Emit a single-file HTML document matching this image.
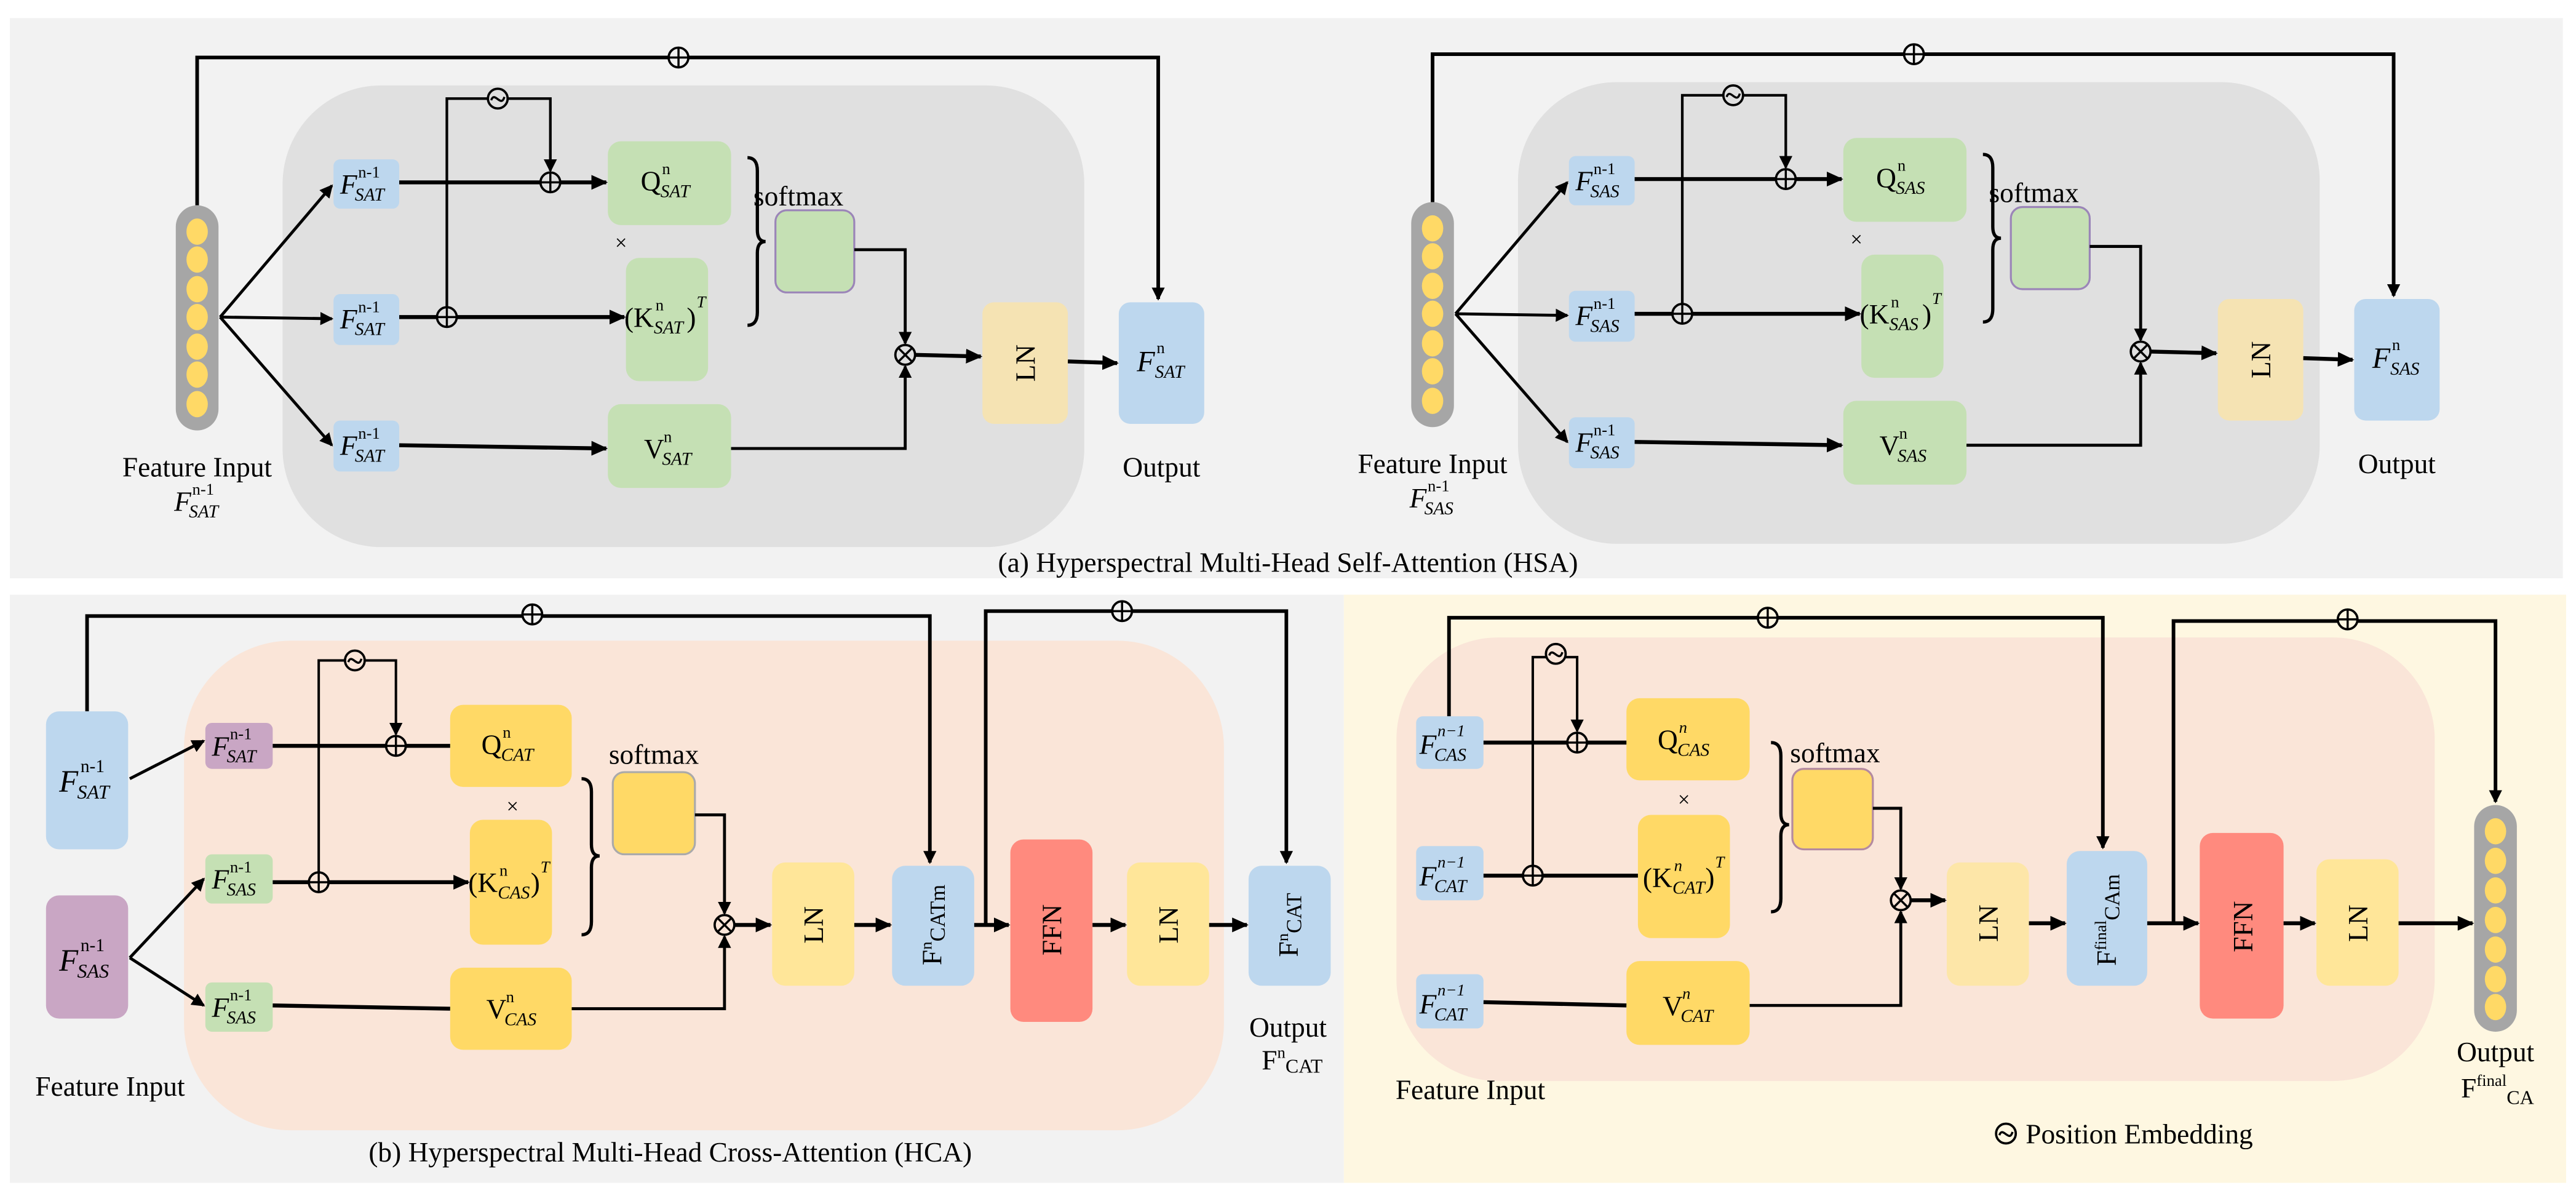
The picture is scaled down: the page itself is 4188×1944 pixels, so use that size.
<!DOCTYPE html>
<html><head><meta charset="utf-8"><style>
html,body{margin:0;padding:0;background:#fff}
svg{display:block}
text{font-family:"Liberation Serif",serif;fill:#000}
.it{font-style:italic}
</style></head><body>
<svg width="4188" height="1944" viewBox="0 0 1568 728" preserveAspectRatio="none" xmlns="http://www.w3.org/2000/svg">
<defs>
<marker id="ar" markerUnits="userSpaceOnUse" markerWidth="10" markerHeight="9" refX="9" refY="4.5" orient="auto"><path d="M0,0 L10,4.5 L0,9 z" fill="#000"/></marker>
<marker id="as" markerUnits="userSpaceOnUse" markerWidth="8" markerHeight="8" refX="7" refY="4" orient="auto"><path d="M0,0 L8,4 L0,8 z" fill="#000"/></marker>
</defs>
<rect x="6" y="11" width="1554" height="341" fill="#f2f2f2"/>
<rect x="6" y="362" width="812" height="358" fill="#f2f2f2"/>
<rect x="818" y="362" width="744" height="358" fill="#fef7e1"/>

<g id="topA">
<rect x="172" y="52" width="488" height="281" rx="60" fill="#e0e0e0"/>
<polyline points="120,125 120,35 705,35 705,182" fill="none" stroke="#000" stroke-width="2.2" marker-end="url(#as)"/>
<rect x="107" y="125" width="26" height="137" rx="13" fill="#a6a6a6"/>
<g fill="#ffd966"><ellipse cx="120" cy="141" rx="6.5" ry="8"/><ellipse cx="120" cy="158" rx="6.5" ry="8"/><ellipse cx="120" cy="176" rx="6.5" ry="8"/><ellipse cx="120" cy="193" rx="6.5" ry="8"/><ellipse cx="120" cy="211" rx="6.5" ry="8"/><ellipse cx="120" cy="228" rx="6.5" ry="8"/><ellipse cx="120" cy="246" rx="6.5" ry="8"/></g>
<g fill="#bdd7ee"><rect x="203" y="97" width="40" height="30" rx="4"/><rect x="203" y="179" width="40" height="31" rx="4"/><rect x="203" y="256" width="40" height="31" rx="4"/><rect x="681" y="184" width="52" height="74" rx="7"/></g>
<g stroke="#000" stroke-width="1.8" fill="none">
<line x1="134" y1="193" x2="202" y2="113" marker-end="url(#as)"/>
<line x1="134" y1="193" x2="202" y2="194" marker-end="url(#as)"/>
<line x1="134" y1="193" x2="202" y2="271" marker-end="url(#as)"/>
</g>
<g fill="#c5e0b4"><rect x="370" y="86" width="75" height="51" rx="8"/><rect x="381" y="157" width="50" height="75" rx="8"/><rect x="370" y="246" width="75" height="51" rx="8"/></g>
<rect x="472" y="128" width="48" height="50" rx="7" fill="#c5e0b4" stroke="#9b85b8" stroke-width="1.2"/>
<rect x="598" y="184" width="52" height="74" rx="7" fill="#f5e3b3"/>
<g stroke="#000" stroke-width="2.4" fill="none">
<line x1="243" y1="111" x2="369" y2="111" marker-end="url(#ar)"/>
<line x1="243" y1="193" x2="380" y2="193" marker-end="url(#ar)"/>
<line x1="243" y1="271" x2="369" y2="273" marker-end="url(#ar)"/>
<line x1="557" y1="216" x2="597" y2="217" marker-end="url(#ar)"/>
<line x1="650" y1="220" x2="680" y2="221" marker-end="url(#ar)"/>
<polyline points="520,152 551,152 551,209" stroke-width="1.8" marker-end="url(#as)"/>
<polyline points="445,273 551,273 551,223" stroke-width="1.8" marker-end="url(#as)"/>
<polyline points="272,193 272,60 335,60 335,104" stroke-width="1.6" marker-end="url(#as)"/>
<path d="M455,96 Q461,96 461,104 L461,140 Q461,147 466,147 Q461,147 461,154 L461,190 Q461,198 455,198" stroke-width="2"/>
</g>
<g fill="#e0e0e0" stroke="#000" stroke-width="1.4">
<circle cx="413" cy="35" r="6" fill="#f2f2f2"/><circle cx="335" cy="111" r="6"/><circle cx="272" cy="193" r="6"/><circle cx="551" cy="216" r="6"/><circle cx="303" cy="60" r="6"/>
</g>
<g stroke="#000" stroke-width="1.3" fill="none">
<path d="M407,35 H419 M413,29 V41"/><path d="M329,111 H341 M335,105 V117"/><path d="M266,193 H278 M272,187 V199"/>
<path d="M547,212 L555,220 M555,212 L547,220"/><path d="M299,61 C301,55 305,66 307,59"/>
</g>
</g>
<g font-size="17">
<text x="207" y="118" class="it">F</text><text x="218" y="108" font-size="10">n-1</text><text x="216" y="122" font-size="11" class="it">SAT</text>
<text x="207" y="200" class="it">F</text><text x="218" y="190" font-size="10">n-1</text><text x="216" y="204" font-size="11" class="it">SAT</text>
<text x="207" y="277" class="it">F</text><text x="218" y="267" font-size="10">n-1</text><text x="216" y="281" font-size="11" class="it">SAT</text>
<text x="390" y="116">Q</text><text x="403" y="106" font-size="10">n</text><text x="402" y="120" font-size="11" class="it">SAT</text>
<text x="380" y="199">(K</text><text x="399" y="189" font-size="10">n</text><text x="398" y="203" font-size="11" class="it">SAT</text><text x="418" y="199">)</text><text x="424" y="187" font-size="10" class="it">T</text>
<text x="392" y="279">V</text><text x="404" y="269" font-size="10">n</text><text x="403" y="283" font-size="11" class="it">SAT</text>
<text x="378" y="152" font-size="13" text-anchor="middle">×</text>
<text x="486" y="125" text-anchor="middle">softmax</text>
<text transform="translate(624,221) rotate(-90)" text-anchor="middle" dy="6">LN</text>
<text x="692" y="226" class="it" font-size="18">F</text><text x="704" y="215" font-size="10">n</text><text x="703" y="230" font-size="11" class="it">SAT</text>
<text x="120" y="290" text-anchor="middle">Feature Input</text>
<text x="106" y="311" class="it">F</text><text x="117" y="301" font-size="10">n-1</text><text x="115" y="315" font-size="11" class="it">SAT</text>
<text x="707" y="290" text-anchor="middle">Output</text>
</g>

<use href="#topA" transform="translate(752,-2)"/>
<g font-size="17" transform="translate(752,-2)">
<text x="207" y="118" class="it">F</text><text x="218" y="108" font-size="10">n-1</text><text x="216" y="122" font-size="11" class="it">SAS</text>
<text x="207" y="200" class="it">F</text><text x="218" y="190" font-size="10">n-1</text><text x="216" y="204" font-size="11" class="it">SAS</text>
<text x="207" y="277" class="it">F</text><text x="218" y="267" font-size="10">n-1</text><text x="216" y="281" font-size="11" class="it">SAS</text>
<text x="390" y="116">Q</text><text x="403" y="106" font-size="10">n</text><text x="402" y="120" font-size="11" class="it">SAS</text>
<text x="380" y="199">(K</text><text x="399" y="189" font-size="10">n</text><text x="398" y="203" font-size="11" class="it">SAS</text><text x="418" y="199">)</text><text x="424" y="187" font-size="10" class="it">T</text>
<text x="392" y="279">V</text><text x="404" y="269" font-size="10">n</text><text x="403" y="283" font-size="11" class="it">SAS</text>
<text x="378" y="152" font-size="13" text-anchor="middle">×</text>
<text x="486" y="125" text-anchor="middle">softmax</text>
<text transform="translate(624,221) rotate(-90)" text-anchor="middle" dy="6">LN</text>
<text x="692" y="226" class="it" font-size="18">F</text><text x="704" y="215" font-size="10">n</text><text x="703" y="230" font-size="11" class="it">SAS</text>
<text x="120" y="290" text-anchor="middle">Feature Input</text>
<text x="106" y="311" class="it">F</text><text x="117" y="301" font-size="10">n-1</text><text x="115" y="315" font-size="11" class="it">SAS</text>
<text x="707" y="290" text-anchor="middle">Output</text>
</g>
<text x="784" y="348" font-size="17" text-anchor="middle">(a)  Hyperspectral Multi-Head Self-Attention (HSA)</text>

<rect x="112" y="390" width="633" height="298" rx="65" fill="#fae5d8"/>
<g fill="none" stroke="#000" stroke-width="2.2">
<polyline points="53,433 53,375 566,375 566,525" marker-end="url(#as)"/>
<polyline points="600,563 600,372 783,372 783,525" marker-end="url(#as)"/>
</g>
<rect x="28" y="433" width="50" height="84" rx="8" fill="#bdd7ee"/>
<rect x="28" y="545" width="50" height="75" rx="8" fill="#c9a6c4"/>
<rect x="125" y="440" width="41" height="28" rx="4" fill="#c9a6c4"/>
<rect x="125" y="520" width="41" height="30" rx="4" fill="#c5e0b4"/>
<rect x="125" y="598" width="41" height="30" rx="4" fill="#c5e0b4"/>
<g fill="#ffd966"><rect x="274" y="429" width="74" height="50" rx="8"/><rect x="286" y="499" width="50" height="76" rx="8"/><rect x="274" y="589" width="74" height="50" rx="8"/></g>
<rect x="373" y="470" width="50" height="50" rx="7" fill="#ffd966" stroke="#aaa" stroke-width="1.2"/>
<rect x="470" y="525" width="50" height="75" rx="8" fill="#ffe699"/>
<rect x="543" y="527" width="50" height="73" rx="8" fill="#bdd7ee"/>
<rect x="615" y="511" width="50" height="111" rx="8" fill="#ff8a7e"/>
<rect x="686" y="525" width="50" height="75" rx="8" fill="#ffe699"/>
<rect x="760" y="527" width="50" height="73" rx="8" fill="#bdd7ee"/>
<g stroke="#000" fill="none" stroke-width="1.8">
<line x1="79" y1="474" x2="124" y2="451" marker-end="url(#as)"/>
<line x1="79" y1="583" x2="124" y2="535" marker-end="url(#as)"/>
<line x1="79" y1="583" x2="124" y2="612" marker-end="url(#as)"/>
<polyline points="423,496 441,496 441,556" marker-end="url(#as)"/>
<polyline points="348,614 441,614 441,570" marker-end="url(#as)"/>
<polyline points="194,537 194,402 241,402 241,447" stroke-width="1.5" marker-end="url(#as)"/>
<path d="M354,474 Q360,474 360,482 L360,514 Q360,521 365,521 Q360,521 360,528 L360,561 Q360,569 354,569" stroke-width="2"/>
<g stroke-width="2.4">
<line x1="166" y1="454" x2="274" y2="454"/>
<line x1="166" y1="537" x2="285" y2="537" marker-end="url(#ar)"/>
<line x1="166" y1="612" x2="274" y2="614"/>
<line x1="447" y1="563" x2="469" y2="563" marker-end="url(#ar)"/>
<line x1="520" y1="563" x2="542" y2="563" marker-end="url(#ar)"/>
<line x1="593" y1="563" x2="614" y2="563" marker-end="url(#ar)"/>
<line x1="665" y1="563" x2="685" y2="563" marker-end="url(#ar)"/>
<line x1="736" y1="563" x2="759" y2="563" marker-end="url(#ar)"/>
</g>
</g>
<g stroke="#000" stroke-width="1.4">
<circle cx="324" cy="374" r="6" fill="#f2f2f2"/><circle cx="683" cy="372" r="6" fill="#f2f2f2"/>
<circle cx="241" cy="454" r="6" fill="#fae5d8"/><circle cx="194" cy="537" r="6" fill="#fae5d8"/><circle cx="441" cy="563" r="6" fill="#fae5d8"/><circle cx="216" cy="402" r="6" fill="#fae5d8"/>
</g>
<g stroke="#000" stroke-width="1.3" fill="none">
<path d="M318,374 H330 M324,368 V380"/><path d="M677,372 H689 M683,366 V378"/><path d="M235,454 H247 M241,448 V460"/><path d="M188,537 H200 M194,531 V543"/>
<path d="M437,559 L445,567 M445,559 L437,567"/><path d="M212,403 C214,397 218,408 220,401"/>
</g>
<g font-size="17">
<text x="36" y="482" class="it" font-size="19">F</text><text x="49" y="470" font-size="11">n-1</text><text x="47" y="486" font-size="12" class="it">SAT</text>
<text x="36" y="591" class="it" font-size="19">F</text><text x="49" y="579" font-size="11">n-1</text><text x="47" y="595" font-size="12" class="it">SAS</text>
<text x="129" y="460" class="it">F</text><text x="140" y="450" font-size="10">n-1</text><text x="138" y="464" font-size="11" class="it">SAT</text>
<text x="129" y="541" class="it">F</text><text x="140" y="531" font-size="10">n-1</text><text x="138" y="545" font-size="11" class="it">SAS</text>
<text x="129" y="619" class="it">F</text><text x="140" y="609" font-size="10">n-1</text><text x="138" y="623" font-size="11" class="it">SAS</text>
<text x="293" y="459">Q</text><text x="306" y="449" font-size="10">n</text><text x="305" y="463" font-size="11" class="it">CAT</text>
<text x="285" y="543">(K</text><text x="304" y="533" font-size="10">n</text><text x="303" y="547" font-size="11" class="it">CAS</text><text x="323" y="543">)</text><text x="329" y="531" font-size="10" class="it">T</text>
<text x="296" y="620">V</text><text x="308" y="610" font-size="10">n</text><text x="307" y="624" font-size="11" class="it">CAS</text>
<text x="312" y="495" font-size="13" text-anchor="middle">×</text>
<text x="398" y="465" text-anchor="middle">softmax</text>
<text transform="translate(495,563) rotate(-90)" text-anchor="middle" dy="6">LN</text>
<text transform="translate(568,563) rotate(-90)" text-anchor="middle" dy="5">F<tspan font-size="10" dy="-6">n</tspan><tspan font-size="13" dy="8">CATm</tspan></text>
<text transform="translate(640,566) rotate(-90)" text-anchor="middle" dy="6">FFN</text>
<text transform="translate(711,563) rotate(-90)" text-anchor="middle" dy="6">LN</text>
<text transform="translate(785,563) rotate(-90)" text-anchor="middle" dy="5">F<tspan font-size="10" dy="-6">n</tspan><tspan font-size="13" dy="8">CAT</tspan></text>
<text x="67" y="667" text-anchor="middle">Feature Input</text>
<text x="784" y="631" text-anchor="middle">Output</text>
<text x="768" y="651">F<tspan font-size="10" dy="-7">n</tspan><tspan font-size="12" dy="9">CAT</tspan></text>
</g>
<text x="408" y="707" font-size="17" text-anchor="middle">(b)  Hyperspectral Multi-Head Cross-Attention (HCA)</text>

<rect x="850" y="388" width="632" height="270" rx="62" fill="#fae5d8"/>
<g fill="none" stroke="#000" stroke-width="2.2">
<polyline points="882,436 882,376 1280,376 1280,516" marker-end="url(#as)"/>
<polyline points="1323,562 1323,378 1519,378 1519,488" marker-end="url(#as)"/>
</g>
<g fill="#bdd7ee"><rect x="862" y="436" width="41" height="32" rx="4"/><rect x="862" y="515" width="41" height="33" rx="4"/><rect x="862" y="593" width="41" height="33" rx="4"/><rect x="1258" y="518" width="49" height="82" rx="8"/></g>
<g fill="#ffd966"><rect x="990" y="425" width="75" height="50" rx="8"/><rect x="997" y="496" width="56" height="75" rx="8"/><rect x="990" y="585" width="75" height="51" rx="8"/></g>
<rect x="1091" y="468" width="49" height="49" rx="7" fill="#ffd966" stroke="#b48aa0" stroke-width="1.2"/>
<rect x="1185" y="525" width="50" height="75" rx="8" fill="#fde6a8"/>
<rect x="1339" y="507" width="51" height="113" rx="8" fill="#ff8a7e"/>
<rect x="1410" y="523" width="50" height="77" rx="8" fill="#ffe699"/>
<rect x="1506" y="490" width="26" height="138" rx="13" fill="#a6a6a6"/>
<g fill="#ffd966"><ellipse cx="1519" cy="506" rx="6.5" ry="8"/><ellipse cx="1519" cy="524" rx="6.5" ry="8"/><ellipse cx="1519" cy="542" rx="6.5" ry="8"/><ellipse cx="1519" cy="560" rx="6.5" ry="8"/><ellipse cx="1519" cy="578" rx="6.5" ry="8"/><ellipse cx="1519" cy="596" rx="6.5" ry="8"/><ellipse cx="1519" cy="613" rx="6.5" ry="8"/></g>
<g stroke="#000" fill="none" stroke-width="1.8">
<polyline points="1140,492 1157,492 1157,541" marker-end="url(#as)"/>
<polyline points="1065,612 1157,612 1157,555" marker-end="url(#as)"/>
<polyline points="933,533 933,400 960,400 960,445" stroke-width="1.5" marker-end="url(#as)"/>
<path d="M1078,452 Q1084,452 1084,460 L1084,495 Q1084,502 1089,502 Q1084,502 1084,509 L1084,547 Q1084,555 1078,555" stroke-width="2"/>
<g stroke-width="2.4">
<line x1="903" y1="452" x2="990" y2="452"/>
<line x1="903" y1="533" x2="997" y2="533"/>
<line x1="903" y1="610" x2="990" y2="612"/>
<line x1="1163" y1="548" x2="1184" y2="548" marker-end="url(#ar)"/>
<line x1="1235" y1="562" x2="1257" y2="562" marker-end="url(#ar)"/>
<line x1="1307" y1="562" x2="1338" y2="562" marker-end="url(#ar)"/>
<line x1="1390" y1="562" x2="1409" y2="562" marker-end="url(#ar)"/>
<line x1="1460" y1="562" x2="1505" y2="562" marker-end="url(#ar)"/>
</g>
</g>
<g stroke="#000" stroke-width="1.4">
<circle cx="1076" cy="376" r="6" fill="#fef7e1"/><circle cx="1429" cy="377" r="6" fill="#fef7e1"/>
<circle cx="960" cy="452" r="6" fill="#fae5d8"/><circle cx="933" cy="533" r="6" fill="#fae5d8"/><circle cx="1157" cy="548" r="6" fill="#fae5d8"/><circle cx="947" cy="398" r="6" fill="#fae5d8"/>
<circle cx="1221" cy="690" r="6" fill="#fef7e1"/>
</g>
<g stroke="#000" stroke-width="1.3" fill="none">
<path d="M1070,376 H1082 M1076,370 V382"/><path d="M1423,377 H1435 M1429,371 V383"/><path d="M954,452 H966 M960,446 V458"/><path d="M927,533 H939 M933,527 V539"/>
<path d="M1153,544 L1161,552 M1161,544 L1153,552"/><path d="M943,399 C945,393 949,404 951,397"/><path d="M1217,691 C1219,685 1223,696 1225,689"/>
</g>
<g font-size="17">
<text x="864" y="459" class="it">F</text><text x="875" y="448" font-size="10" class="it">n−1</text><text x="873" y="463" font-size="11" class="it">CAS</text>
<text x="864" y="539" class="it">F</text><text x="875" y="528" font-size="10" class="it">n−1</text><text x="873" y="543" font-size="11" class="it">CAT</text>
<text x="864" y="617" class="it">F</text><text x="875" y="606" font-size="10" class="it">n−1</text><text x="873" y="621" font-size="11" class="it">CAT</text>
<text x="1009" y="456">Q</text><text x="1022" y="446" font-size="10" class="it">n</text><text x="1021" y="460" font-size="11" class="it">CAS</text>
<text x="1000" y="540">(K</text><text x="1019" y="530" font-size="10" class="it">n</text><text x="1018" y="544" font-size="11" class="it">CAT</text><text x="1038" y="540">)</text><text x="1044" y="528" font-size="10" class="it">T</text>
<text x="1012" y="618">V</text><text x="1024" y="608" font-size="10" class="it">n</text><text x="1023" y="622" font-size="11" class="it">CAT</text>
<text x="1025" y="491" font-size="13" text-anchor="middle">×</text>
<text x="1117" y="464" text-anchor="middle">softmax</text>
<text transform="translate(1210,562) rotate(-90)" text-anchor="middle" dy="6">LN</text>
<text transform="translate(1283,560) rotate(-90)" text-anchor="middle" dy="5">F<tspan font-size="10" dy="-6">final</tspan><tspan font-size="13" dy="8">CAm</tspan></text>
<text transform="translate(1365,564) rotate(-90)" text-anchor="middle" dy="6">FFN</text>
<text transform="translate(1435,562) rotate(-90)" text-anchor="middle" dy="6">LN</text>
<text x="895" y="669" text-anchor="middle">Feature Input</text>
<text x="1519" y="646" text-anchor="middle">Output</text>
<text x="1498" y="668">F<tspan font-size="10" dy="-7">final</tspan><tspan font-size="12" dy="11">CA</tspan></text>
<text x="1233" y="696">Position Embedding</text>
</g>
</svg>
</body></html>
